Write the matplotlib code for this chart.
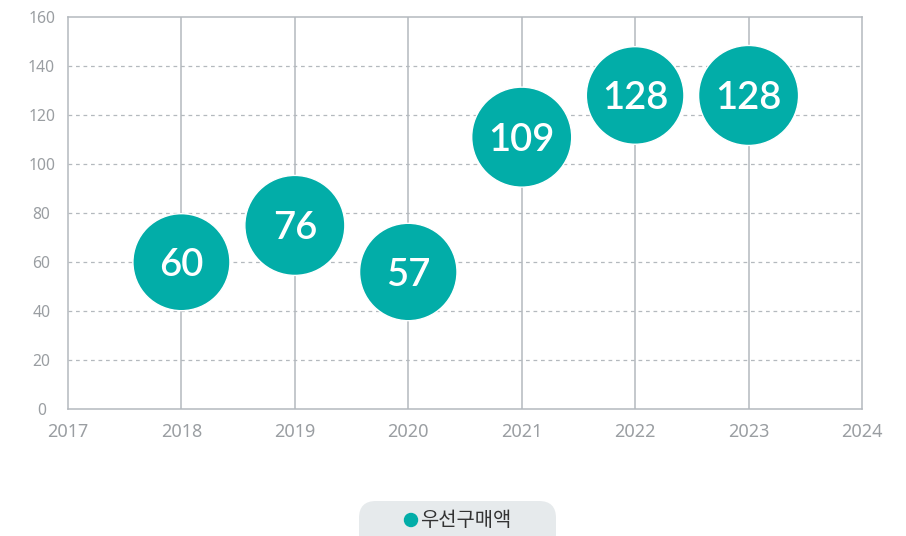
import matplotlib
matplotlib.use('Agg')
import matplotlib.pyplot as plt
from matplotlib.patches import FancyBboxPatch, Circle

plt.rcParams['font.family'] = ['Noto Sans', 'Noto Sans CJK KR', 'DejaVu Sans']

# data
years = [2018, 2019, 2020, 2021, 2022, 2023]
y_pos = [60, 75, 56, 111, 128, 128]          # bubble centre on the y axis
labels = ['60', '76', '57', '109', '128', '128']
radius_px = [48.5, 50, 48.7, 50, 48.8, 50]  # bubble radius in pixels
series_name = '우선구매액'

teal = '#02ada8'
grid_col = '#b4b9be'
tick_col = '#9a9ea2'

W, H, DPI = 906, 536, 100
fig = plt.figure(figsize=(W / DPI, H / DPI), dpi=DPI)
ax = fig.add_axes([68 / W, 1 - 409.3 / H, (862 - 68) / W, (409.3 - 17) / H])

ax.set_xlim(2017, 2024)
ax.set_ylim(0, 160)
ax.set_xticks(range(2017, 2025))
ax.set_yticks(range(0, 161, 20))

for yv in range(20, 160, 20):
    ax.axhline(yv, color=grid_col, ls=(0, (3, 3)), lw=0.9, zorder=1)
for xv in years:
    ax.axvline(xv, color=grid_col, lw=1.1, zorder=1)

for s in ax.spines.values():
    s.set_color(grid_col)
    s.set_linewidth(1.1)

ax.tick_params(length=0, colors=tick_col)
ax.tick_params(axis='y', pad=19, labelsize=11.3)
ax.tick_params(axis='x', pad=10, labelsize=13)
for lbl in ax.get_yticklabels():
    lbl.set_horizontalalignment('center')

sizes = [(2 * r * 72 / DPI) ** 2 for r in radius_px]
ax.scatter(years, y_pos, s=sizes, color=teal, edgecolors='white', linewidths=1, zorder=3)
for x, y, t in zip(years, y_pos, labels):
    ax.text(x, y, t, color='white', fontsize=27.5, family='Lato', fontweight='semibold',
            ha='center', va='center_baseline', zorder=4)

# legend pill at the bottom, drawn in pixel coordinates
lax = fig.add_axes([0, 0, 1, 1])
lax.set_xlim(0, W)
lax.set_ylim(H, 0)
lax.axis('off')
lax.add_patch(FancyBboxPatch((359, 501), 197, 50, boxstyle='round,pad=0,rounding_size=17',
                             facecolor='#e6eaec', edgecolor='none'))
lax.add_patch(Circle((411, 520), 6.5, color=teal))
lax.text(420, 520, series_name, fontsize=14.3, color='#333333', family='Noto Sans CJK KR',
         ha='left', va='center')

fig.savefig('out.png', dpi=DPI)
